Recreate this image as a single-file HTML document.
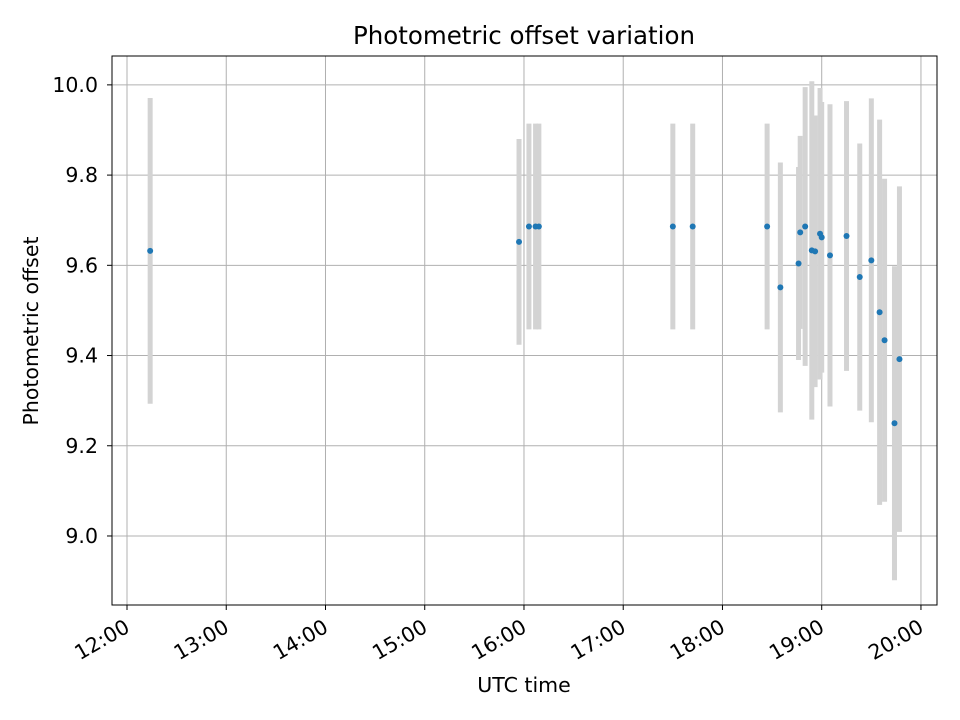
<!DOCTYPE html>
<html><head><meta charset="utf-8"><style>
body{margin:0;background:#fff;}
svg{display:block;font-family:"DejaVu Sans","Liberation Sans",sans-serif;}
</style></head><body>
<svg id="chart" width="960" height="720">
<text x="524" y="44" font-size="24.5" text-anchor="middle">Photometric offset variation</text>
<text x="524" y="692" font-size="20.5" text-anchor="middle">UTC time</text>
<text transform="translate(38,331) rotate(-90)" font-size="20.5" text-anchor="middle">Photometric offset</text>
<g id="grid"></g><g id="bars"></g><g id="pts"></g><g id="axes"></g>
</svg>
<script>
// minutes after 12:00 UTC
const times=[14,237,243,247,249,330,342,387,395,406,407,410,414,416,419,420,425,435,443,450,455,458,464,467];
const offsets=[9.632,9.652,9.686,9.686,9.686,9.686,9.686,9.686,9.551,9.604,9.673,9.686,9.633,9.631,9.670,9.662,9.622,9.665,9.574,9.611,9.496,9.434,9.250,9.392];
const errors=[0.339,0.228,0.228,0.228,0.228,0.228,0.228,0.228,0.277,0.214,0.214,0.309,0.375,0.301,0.323,0.300,0.335,0.299,0.296,0.359,0.427,0.358,0.348,0.383];
const xTicks=[0,60,120,180,240,300,360,420,480];
const xTickLabels=["12:00","13:00","14:00","15:00","16:00","17:00","18:00","19:00","20:00"];
const yTicks=[9.0,9.2,9.4,9.6,9.8,10.0];
const yTickLabels=["9.0","9.2","9.4","9.6","9.8","10.0"];
const L=112,R=937,T=56,B=605;
const X0=-9.07,X1=489.7,Y0=8.847,Y1=10.064;
const sx=v=>L+(v-X0)/(X1-X0)*(R-L);
const sy=v=>B-(v-Y0)/(Y1-Y0)*(B-T);
const NS="http://www.w3.org/2000/svg";
function mk(tag,attrs,parent){const e=document.createElementNS(NS,tag);for(const k in attrs)e.setAttribute(k,attrs[k]);document.getElementById(parent).appendChild(e);return e;}
xTicks.forEach((t,i)=>{
 const x=sx(t);
 const g=mk('line',{x1:x,x2:x,y1:T,y2:B,stroke:'#b0b0b0','stroke-width':1},'grid');
 
 
 const tk=mk('line',{x1:x,x2:x,y1:B,y2:B+5,stroke:'#000','stroke-width':1},'axes');
 
 
 const tx=mk('text',{x:x+4,y:B+26,'font-size':20.5,'text-anchor':'end',transform:`rotate(-30 ${x+4} ${B+26})`},'axes');
 tx.textContent=xTickLabels[i];
 
 
});
yTicks.forEach((t,i)=>{
 const y=sy(t);
 const g=mk('line',{x1:L,x2:R,y1:y,y2:y,stroke:'#b0b0b0','stroke-width':1},'grid');
 
 
 const tk=mk('line',{x1:L-5,x2:L,y1:y,y2:y,stroke:'#000','stroke-width':1},'axes');
 
 
 const tx=mk('text',{x:L-14,y:y+7,'font-size':20.5,'text-anchor':'end'},'axes');
 tx.textContent=yTickLabels[i];
 
 
});
times.forEach((t,i)=>{
 const x=sx(t);
 const b=mk('line',{x1:x,x2:x,y1:sy(offsets[i]+errors[i]),y2:sy(offsets[i]-errors[i]),stroke:'#d3d3d3','stroke-width':5},'bars');
 
 
});
times.forEach((t,i)=>{
 const p=mk('circle',{cx:sx(t),cy:sy(offsets[i]),r:3,fill:'#1f77b4'},'pts');
 
 
});
const fr=mk('rect',{x:L,y:T,width:R-L,height:B-T,fill:'none',stroke:'#000','stroke-width':1},'axes');


</script>
</body></html>
